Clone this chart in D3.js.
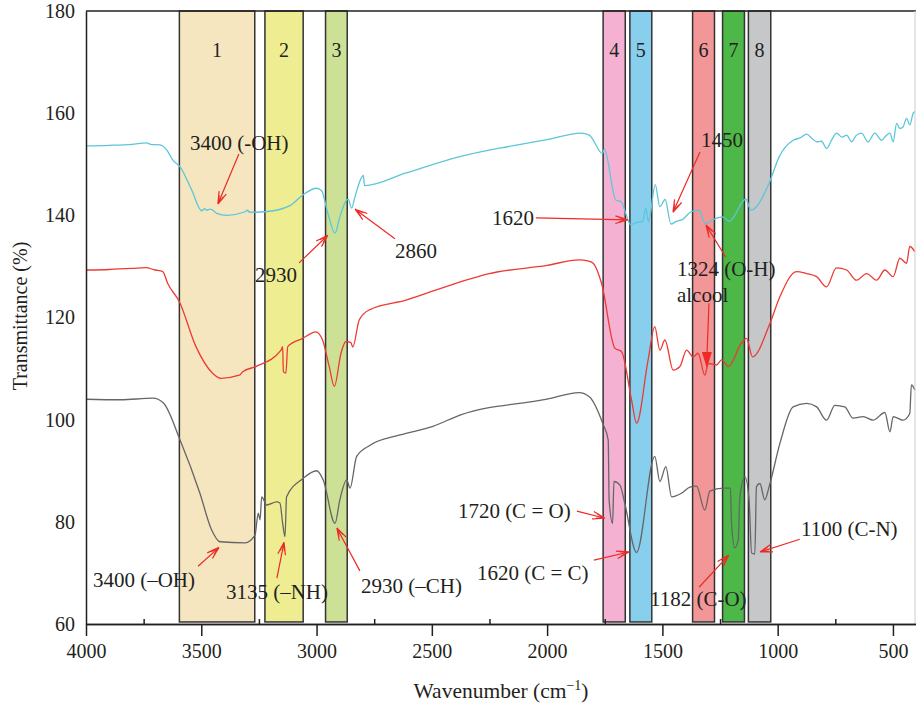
<!DOCTYPE html>
<html lang="en">
<head>
<meta charset="utf-8" />
<title>FTIR spectra</title>
<script src="https://d3js.org/d3.v7.min.js"></script>
<style>
    body { margin: 0; background: #fff; }
    text { font-family: "Liberation Serif", "DejaVu Serif", serif; fill: #231f20; }
    .axis text { font-size: 20px; }
    .axis path, .axis line { stroke: #231f20; stroke-width: 1.5px; }
    .band rect { stroke: #333; stroke-width: 1.5px; }
    .spec { fill: none; stroke-width: 1.3px; stroke-linejoin: round; }
    .note { font-size: 21px; }
    .arrow { fill: none; stroke: #ee2a24; stroke-width: 1.2px; }
</style>
</head>
<body>
<svg width="916" height="703"></svg>
<script>
// band limits (cm-1), colours, labels
var bandHi = [3595, 3224, 2961, 1757, 1641, 1369, 1239, 1127];
var bandLo = [3268, 3058, 2867, 1661, 1546, 1274, 1144, 1030];
var bandColors = ["#f5e6c0", "#eeed92", "#cde196", "#f4b1d1", "#88cfee", "#f39697", "#4db748", "#c6c7c9"];
var bandLabels = ["1", "2", "3", "4", "5", "6", "7", "8"];

var xTicks = [4000, 3500, 3000, 2500, 2000, 1500, 1000, 500];
var xMinor = [3750, 3250, 2750, 2250, 1750, 1250, 750];
var yTicks = [60, 80, 100, 120, 140, 160, 180];

// spectra: [wavenumber, transmittance]
var cyanSpec = [[4000,153.6],[3900,153.7],[3800,153.9],[3737,154.2],[3720,153.9],[3679,153.8],[3650,152.8],[3623,150.8],
    [3592,149.5],[3542,145],[3498,140.9],[3485,141.3],[3477,141],[3460,141.2],[3433,140.4],[3390,140],[3310,140.7],[3300,141],
    [3290,140.6],[3224,140.7],[3115,141.9],[3059,144],[3000,145.3],[2978,144.8],[2951,140.4],[2920,136.5],[2899,139.7],
    [2869,143],[2862,143.1],[2848,141.4],[2833,143.7],[2797,147.8],[2792,145.8],[2612,148.3],[2378,151.5],[2200,153.2],
    [2000,154.8],[1853,156.1],[1817,155.7],[1759,152.1],[1752,153],[1702,143],[1680,142.7],[1637,138.2],[1610,138.6],
    [1586,138.8],[1572,141.4],[1560,138.8],[1531,146],[1511,141.7],[1488,143.1],[1463,138.3],[1440,138.8],[1412,139.2],
    [1376,140.7],[1340,141],[1314,138.3],[1282,139.1],[1239,139.7],[1210,138.8],[1138,143.2],[1116,141],[1037,146.3],
    [993,151.5],[933,154.7],[900,155.2],[875,155.9],[850,155],[831,154.4],[810,154.5],[788,153.1],[765,154.8],[745,156.1],
    [720,155.3],[701,155.7],[679,154.4],[660,155.6],[636,156.1],[608,154.4],[579,156.1],[549,154.7],[530,155.6],[513,156.1],
    [499,154.4],[484,158],[470,157],[456,157.3],[441,159],[427,157.7],[412,160],[405,160.3]];

var redSpec = [[4000,129.3],[3900,129.4],[3800,129.6],[3740,129.75],[3700,129.3],[3667,129],[3646,126.7],[3595,123.1],
    [3523,114.3],[3451,109.1],[3415,108.1],[3335,108.7],[3320,109.4],[3263,110.4],[3154,113.6],[3147,114.3],[3144,109.4],
    [3133,109.1],[3125,114.3],[3060,115.9],[3003,117.2],[2974,115.6],[2945,110.4],[2923,106.5],[2894,113],[2873,115.3],
    [2851,115.1],[2843,114.2],[2815,119.5],[2771,121.5],[2612,123.4],[2396,126.7],[2251,128.6],[2000,130.2],[1861,131.3],
    [1824,131.1],[1800,130.6],[1764,126.7],[1706,114],[1677,113.3],[1634,103.9],[1612,99.3],[1562,111.7],[1533,118.2],
    [1511,113.6],[1489,115.6],[1453,109.7],[1424,110.4],[1395,113.6],[1366,112.3],[1345,113],[1316,108.7],[1301,111],
    [1265,110.7],[1243,111.7],[1214,110.4],[1157,115],[1135,115.9],[1109,112.3],[1034,118.8],[990,124.1],[918,129],
    [875,128.6],[831,128],[788,126],[745,129.7],[701,129.3],[658,127.3],[614,128.6],[571,127.3],[535,129.3],[499,128],
    [470,131.6],[441,130.6],[427,133.9],[405,132.9]];

var graySpec = [[4000,104],[3850,103.9],[3710,104.2],[3665,103.3],[3592,96],[3506,85.6],[3455,78.4],[3419,76.1],[3310,75.9],
    [3267,77.4],[3253,81.7],[3245,80.4],[3238,84.9],[3216,83.3],[3173,83.9],[3159,83.7],[3147,79.7],[3137,77.1],[3130,84.9],
    [3058,88.5],[3000,90],[2971,88.2],[2920,79.7],[2899,84.3],[2869,88.2],[2855,86.6],[2826,92.8],[2768,95],[2638,97],
    [2495,98.7],[2378,100.9],[2000,104],[1861,105.3],[1817,104.5],[1759,99.3],[1735,96],[1731,84.3],[1716,79.7],[1710,87.9],
    [1684,87.2],[1663,83.6],[1612,74],[1533,92.8],[1511,87.9],[1485,90.8],[1460,84.9],[1417,85.6],[1381,86.8],[1352,87],
    [1316,82.3],[1294,86],[1236,86.6],[1205,86.6],[1200,79.7],[1186,74.9],[1171,76.4],[1164,84.9],[1142,88.8],[1124,84.3],
    [1113,73.9],[1099,73.7],[1092,86.9],[1077,87.5],[1056,84.3],[1037,86.9],[990,95.4],[933,102.5],[875,103.2],[831,102.5],
    [788,99.9],[752,102.8],[709,102.5],[673,100.3],[629,100.6],[586,99.9],[535,101.4],[513,97.6],[499,100.6],[456,99.9],
    [427,101.2],[420,106.8],[405,105.8]];

// annotation texts: [label, left wavenumber, centre transmittance]
var notes = [["3400 (-OH)", 3549, 154.2], ["2930", 3267, 128.3], ["2860", 2660, 133], ["1450", 1333, 154.9],
    ["1620", 2239, 139.5], ["1324 (O-H)", 1437, 129.5], ["alcool", 1437, 124.4], ["3400 (\u2013OH)", 3970, 68.6],
    ["3135 (\u2013NH)", 3393, 66.3], ["2930 (\u2013CH)", 2807, 67.6], ["1720 (C = O)", 2387, 82.1],
    ["1620 (C = C)", 2304, 70], ["1182 (C-O)", 1554, 64.9], ["1100 (C-N)", 899, 78.6]];

// arrows: [from wn, from T, to wn, to T]
var arrows = [[3337,152,3428,142.2],[3076,130.7,2951,136.1],[2660,135.4,2833,141.2],[1337,152.4,1454,140.6],
    [2049,139.5,1650,139.1],[1225,131.8,1311,138.1],[3514,71.3,3423,75],[3172,69,3141,76],[2812,70.4,2912,78.8],
    [1871,82.1,1749,80.7],[1797,72.5,1645,74.1],[1341,67.2,1212,73.5],[904,76.6,1077,74.1]];
var alcoolArrow = [1298, 122.8, 1307, 110.1];

var svg = d3.select("svg");
var x = d3.scaleLinear().domain([4000, 400]).range([86, 916]);
var y = d3.scaleLinear().domain([60, 180]).range([624, 11]);

//bands
var band = svg.append("g").attr("class", "band")
    .selectAll("g").data(bandHi).enter().append("g");
band.append("rect")
    .attr("x", function (d) { return x(d); })
    .attr("y", y(180))
    .attr("width", function (d, i) { return x(bandLo[i]) - x(d); })
    .attr("height", y(60.4) - y(180))
    .attr("fill", function (d, i) { return bandColors[i]; });
band.append("text")
    .attr("x", function (d, i) { return (x(d) + x(bandLo[i])) / 2; })
    .attr("y", y(172.4))
    .attr("dy", "0.35em")
    .attr("text-anchor", "middle")
    .style("font-size", "20px")
    .text(function (d, i) { return bandLabels[i]; });

//spectra
var line = d3.line().curve(d3.curveMonotoneX)
    .x(function (d) { return x(d[0]); }).y(function (d) { return y(d[1]); });
[[cyanSpec, "#5cc6d9"], [redSpec, "#ec3a35"], [graySpec, "#666666"]].forEach(function (s) {
    svg.append("path").attr("class", "spec").attr("d", line(s[0])).attr("stroke", s[1]);
});

//frame
svg.append("line").attr("x1", x(4000)).attr("x2", x(400)).attr("y1", y(180)).attr("y2", y(180))
    .attr("stroke", "#231f20").attr("stroke-width", 1.5);
svg.append("line").attr("x1", x(400) - 1).attr("x2", x(400) - 1).attr("y1", y(180)).attr("y2", y(60))
    .attr("stroke", "#cccccc").attr("stroke-width", 1);

//axes
svg.append("g").attr("class", "axis")
    .attr("transform", "translate(0," + y(60) + ")")
    .call(d3.axisBottom(x).tickValues(xMinor).tickSize(-5).tickFormat("").tickSizeOuter(0));
svg.append("g").attr("class", "axis")
    .attr("transform", "translate(0," + y(60) + ")")
    .call(d3.axisBottom(x).tickValues(xTicks).tickSize(12).tickSizeOuter(0).tickPadding(8).tickFormat(d3.format("d")));
svg.append("g").attr("class", "axis")
    .attr("transform", "translate(" + x(4000) + ",0)")
    .call(d3.axisLeft(y).tickValues(yTicks).tickSize(0).tickSizeOuter(0).tickPadding(11));
svg.selectAll(".axis text").attr("fill", "#231f20");

svg.append("text")
    .attr("transform", "translate(20," + 316 + ") rotate(-90)")
    .attr("text-anchor", "middle").attr("dy", "0.35em")
    .style("font-size", "20px")
    .text("Transmittance (%)");
var xl = svg.append("text").attr("x", 501).attr("y", 690).attr("text-anchor", "middle")
    .attr("dy", "0.35em").style("font-size", "21.5px");
xl.append("tspan").text("Wavenumber (cm");
xl.append("tspan").attr("dy", "-8").style("font-size", "14px").text("\u22121");
xl.append("tspan").attr("dy", "8").text(")");

//annotations
svg.append("g").selectAll("text").data(notes).enter().append("text")
    .attr("class", "note")
    .attr("x", function (d) { return x(d[1]); })
    .attr("y", function (d) { return y(d[2]); })
    .attr("dy", "0.35em")
    .text(function (d) { return d[0]; });

function arrowPath(a) {
    var x1 = x(a[0]), y1 = y(a[1]), x2 = x(a[2]), y2 = y(a[3]);
    var ang = Math.atan2(y2 - y1, x2 - x1), len = 13, sp = 0.3;
    var p = "M" + x1 + "," + y1 + "L" + x2 + "," + y2;
    // two barbs each side, like the original's open heads
    [[len, sp], [len, -sp], [len - 4, sp * 0.8], [len - 4, -sp * 0.8]].forEach(function (b) {
        p += "M" + (x2 - b[0] * Math.cos(ang - b[1])) + "," + (y2 - b[0] * Math.sin(ang - b[1])) +
            "L" + x2 + "," + y2;
    });
    return p;
}
svg.append("g").selectAll("path").data(arrows).enter().append("path")
    .attr("class", "arrow")
    .attr("d", arrowPath);

// filled arrow from "alcool"
var ax1 = x(alcoolArrow[0]), ay1 = y(alcoolArrow[1]), ax2 = x(alcoolArrow[2]), ay2 = y(alcoolArrow[3]);
svg.append("line").attr("class", "arrow").attr("x1", ax1).attr("y1", ay1).attr("x2", ax2).attr("y2", ay2 - 10);
svg.append("path").attr("fill", "#ee2a24")
    .attr("d", "M" + (ax2 - 5) + "," + (ay2 - 16) + "L" + (ax2 + 5) + "," + (ay2 - 16) + "L" + ax2 + "," + ay2 + "Z");
</script>
</body>
</html>
